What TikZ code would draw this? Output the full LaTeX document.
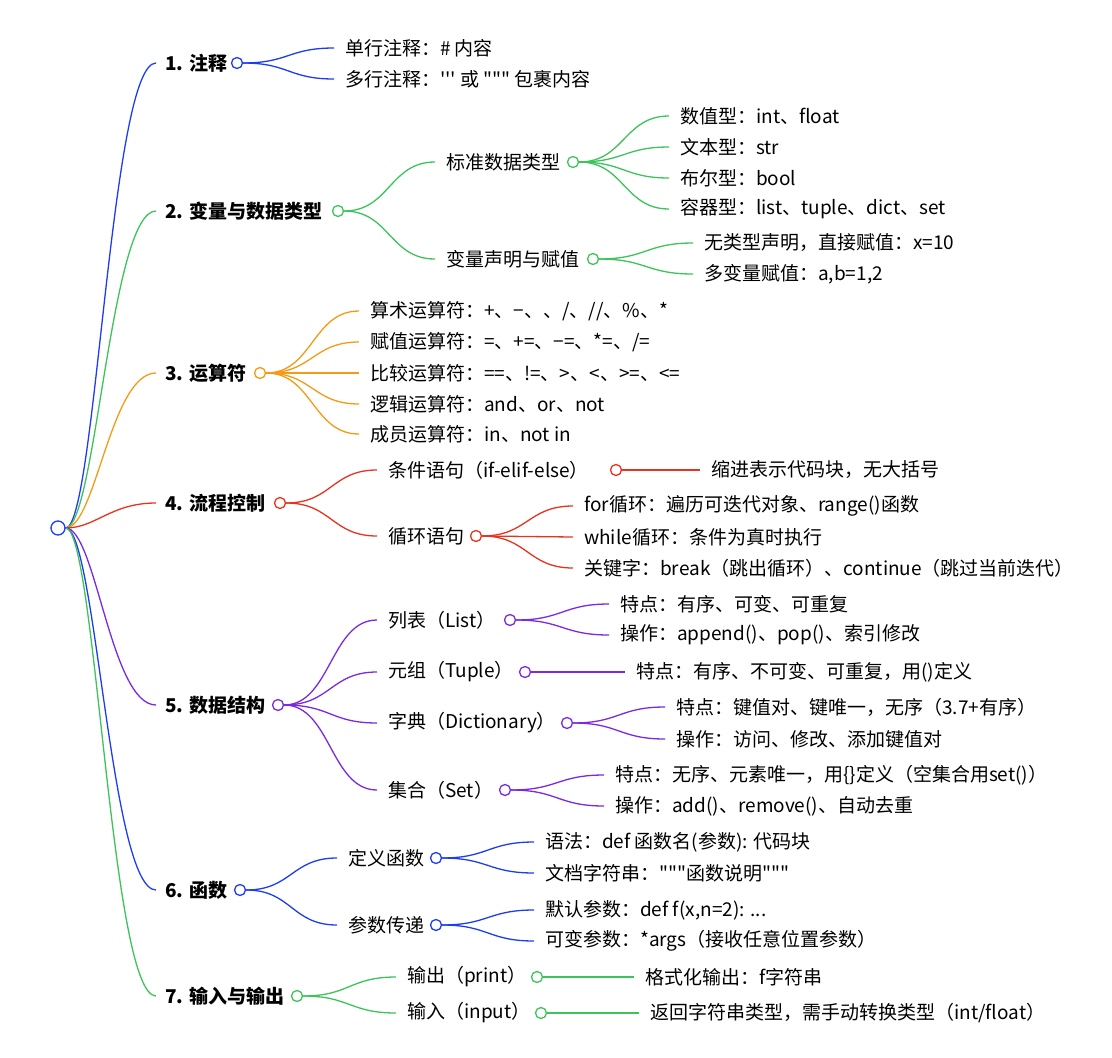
\documentclass[tikz,border=0pt]{standalone}
\usepackage{fontspec}
\setmainfont{Noto Sans CJK SC}[Ligatures=TeXOff]
\usetikzlibrary{calc,backgrounds}
\definecolor{cb}{HTML}{1E3CF0}
\definecolor{cg}{HTML}{3CC35A}
\definecolor{co}{HTML}{F59A14}
\definecolor{cr}{HTML}{E8321E}
\definecolor{cp}{HTML}{7A2AE0}
\tikzset{
  x=1pt,y=-1pt,
  t/.style={anchor=west,inner sep=0pt,font=\fontsize{19}{22}\selectfont},
  tb/.style={t,font=\fontsize{19}{22}\selectfont\bfseries},
  dot/.style={circle,draw,fill=white,line width=1.3pt,minimum size=11pt,inner sep=0pt},
  ln/.style={line width=1.3pt},
}
\newcommand{\conn}[3]{\begin{pgfonlayer}{background}\draw[ln,#3] let \p1=(#1.east), \p2=([xshift=-11pt]#2.west) in (\p1) .. controls ({(\x1+\x2)/2},\y1) and ({(\x1+\x2)/2},\y2) .. (\p2);\end{pgfonlayer}}
\newcommand{\rconn}[2]{\begin{pgfonlayer}{background}\draw[ln,#2] let \p1=(root.east), \p2=([xshift=-9pt]#1.west) in (\p1) .. controls ({\x1+30},\y1) and ({\x1+45},\y2) .. (\p2);\end{pgfonlayer}}
\begin{document}
\begin{tikzpicture}
\useasboundingbox (0,0) rectangle (1112,1058);
\node[dot,draw=cb,minimum size=14pt] (root) at (58,528) {};
% level 1
\node[tb] (a) at (165,63) {1. 注释};
\node[tb] (b) at (165,211) {2. 变量与数据类型};
\node[tb] (c) at (165,373) {3. 运算符};
\node[tb] (d) at (165,503) {4. 流程控制};
\node[tb] (e) at (165,705) {5. 数据结构};
\node[tb] (f) at (165,890) {6. 函数};
\node[tb] (g) at (165,996) {7. 输入与输出};
\rconn{a}{cb}\rconn{b}{cg}\rconn{c}{co}\rconn{d}{cr}\rconn{e}{cp}\rconn{f}{cb}\rconn{g}{cg}
% 1
\node[dot,draw=cb] (ac) at (237,63) {};
\node[t] (a1) at (345,48) {单行注释：\# 内容};
\node[t] (a2) at (345,79) {多行注释：''' 或 """ 包裹内容};
\conn{ac}{a1}{cb}\conn{ac}{a2}{cb}
% 2
\node[dot,draw=cg] (bc) at (338,211) {};
\node[t] (b1) at (446,162) {标准数据类型};
\node[t] (b2) at (446,259) {变量声明与赋值};
\conn{bc}{b1}{cg}\conn{bc}{b2}{cg}
\node[dot,draw=cg] (b1c) at (573,162) {};
\node[t] (b11) at (680,116) {数值型：int、float};
\node[t] (b12) at (680,147) {文本型：str};
\node[t] (b13) at (680,178) {布尔型：bool};
\node[t] (b14) at (680,209) {容器型：list、tuple、dict、set};
\conn{b1c}{b11}{cg}\conn{b1c}{b12}{cg}\conn{b1c}{b13}{cg}\conn{b1c}{b14}{cg}
\node[dot,draw=cg] (b2c) at (593,259) {};
\node[t] (b21) at (704,243) {无类型声明，直接赋值：x=10};
\node[t] (b22) at (704,274) {多变量赋值：a,b=1,2};
\conn{b2c}{b21}{cg}\conn{b2c}{b22}{cg}
% 3
\node[dot,draw=co] (cc) at (260,373) {};
\node[t] (c1) at (370,311) {算术运算符：+、−、、/、//、\%、*};
\node[t] (c2) at (370,342) {赋值运算符：=、+=、−=、*=、/=};
\node[t] (c3) at (370,373) {比较运算符：==、!=、>、<、>=、<=};
\node[t] (c4) at (370,404) {逻辑运算符：and、or、not};
\node[t] (c5) at (370,434) {成员运算符：in、not in};
\conn{cc}{c1}{co}\conn{cc}{c2}{co}\conn{cc}{c3}{co}\conn{cc}{c4}{co}\conn{cc}{c5}{co}
% 4
\node[dot,draw=cr] (dc) at (280,503) {};
\node[t] (d1) at (388,470) {条件语句（if-elif-else）};
\node[t] (d2) at (388,536) {循环语句};
\conn{dc}{d1}{cr}\conn{dc}{d2}{cr}
\node[dot,draw=cr] (d1c) at (616,470) {};
\node[t] (d11) at (711,470) {缩进表示代码块，无大括号};
\conn{d1c}{d11}{cr}
\node[dot,draw=cr] (d2c) at (476,536) {};
\node[t] (d21) at (584,506) {for循环：遍历可迭代对象、range()函数};
\node[t] (d22) at (584,537) {while循环：条件为真时执行};
\node[t] (d23) at (584,568) {关键字：break（跳出循环）、continue（跳过当前迭代）};
\conn{d2c}{d21}{cr}\conn{d2c}{d22}{cr}\conn{d2c}{d23}{cr}
% 5
\node[dot,draw=cp] (ec) at (278,705) {};
\node[t] (e1) at (388,620) {列表（List）};
\node[t] (e2) at (388,672) {元组（Tuple）};
\node[t] (e3) at (388,723) {字典（Dictionary）};
\node[t] (e4) at (388,790) {集合（Set）};
\conn{ec}{e1}{cp}\conn{ec}{e2}{cp}\conn{ec}{e3}{cp}\conn{ec}{e4}{cp}
\node[dot,draw=cp] (e1c) at (510,620) {};
\node[t] (e11) at (620,604) {特点：有序、可变、可重复};
\node[t] (e12) at (620,635) {操作：append()、pop()、索引修改};
\conn{e1c}{e11}{cp}\conn{e1c}{e12}{cp}
\node[dot,draw=cp] (e2c) at (525,672) {};
\node[t] (e21) at (636,672) {特点：有序、不可变、可重复，用()定义};
\conn{e2c}{e21}{cp}
\node[dot,draw=cp] (e3c) at (567,723) {};
\node[t] (e31) at (676,707) {特点：键值对、键唯一，无序（3.7+有序）};
\node[t] (e32) at (676,739) {操作：访问、修改、添加键值对};
\conn{e3c}{e31}{cp}\conn{e3c}{e32}{cp}
\node[dot,draw=cp] (e4c) at (505,790) {};
\node[t] (e41) at (615,775) {特点：无序、元素唯一，用\{\}定义（空集合用set()）};
\node[t] (e42) at (615,806) {操作：add()、remove()、自动去重};
\conn{e4c}{e41}{cp}\conn{e4c}{e42}{cp}
% 6
\node[dot,draw=cb] (fc) at (240,890) {};
\node[t] (f1) at (348,858) {定义函数};
\node[t] (f2) at (348,925) {参数传递};
\conn{fc}{f1}{cb}\conn{fc}{f2}{cb}
\node[dot,draw=cb] (f1c) at (436,858) {};
\node[t] (f11) at (545,842) {语法：def 函数名(参数): 代码块};
\node[t] (f12) at (545,873) {文档字符串："""函数说明"""};
\conn{f1c}{f11}{cb}\conn{f1c}{f12}{cb}
\node[dot,draw=cb] (f2c) at (436,925) {};
\node[t] (f21) at (545,910) {默认参数：def f(x,n=2): ...};
\node[t] (f22) at (545,941) {可变参数：*args（接收任意位置参数）};
\conn{f2c}{f21}{cb}\conn{f2c}{f22}{cb}
% 7
\node[dot,draw=cg] (gc) at (297,996) {};
\node[t] (g1) at (407,977) {输出（print）};
\node[t] (g2) at (407,1013) {输入（input）};
\conn{gc}{g1}{cg}\conn{gc}{g2}{cg}
\node[dot,draw=cg] (g1c) at (537,977) {};
\node[t] (g11) at (645,977) {格式化输出：f字符串};
\conn{g1c}{g11}{cg}
\node[dot,draw=cg] (g2c) at (541,1013) {};
\node[t] (g21) at (650,1013) {返回字符串类型，需手动转换类型（int/float）};
\conn{g2c}{g21}{cg}
\end{tikzpicture}
\end{document}
